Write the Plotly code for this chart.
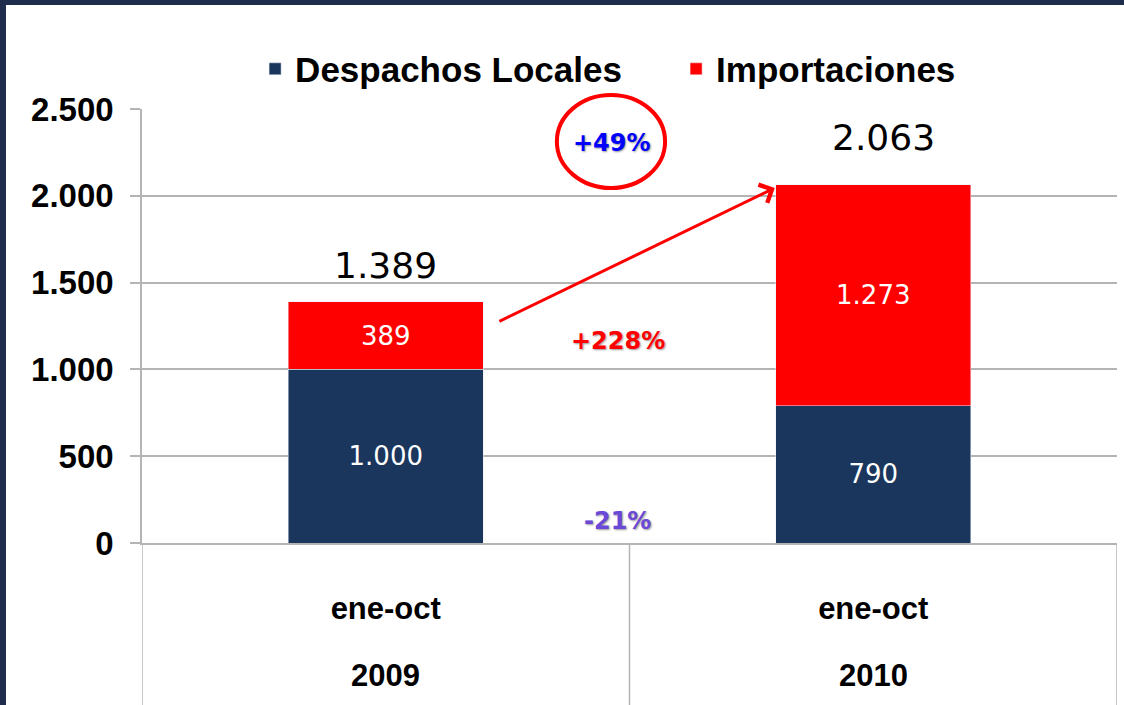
import plotly.graph_objects as go

# data
anios = ['2009', '2010']
periodo = ['ene-oct', 'ene-oct']
despachos_locales = [1000, 790]
importaciones = [389, 1273]
totales = [d + i for d, i in zip(despachos_locales, importaciones)]
variaciones = ['+49%', '+228%', '-21%']
y_ticks = [0, 500, 1000, 1500, 2000, 2500]

navy = '#1a365d'
frame = '#1f2c4c'
red = '#ff0000'
grid = '#b4b4b4'
x = [0, 1]

fig = go.Figure()
fig.add_trace(go.Bar(x=x, y=despachos_locales, name='Despachos Locales',
    marker_color=navy, width=0.4,
    texttemplate='%{y:,.0f}', textposition='inside', insidetextanchor='middle',
    textangle=0, constraintext='none',
    textfont=dict(family='DejaVu Sans', size=26, color='white')))
fig.add_trace(go.Bar(x=x, y=importaciones, name='Importaciones',
    marker_color=red, width=0.4,
    texttemplate='%{y:,.0f}', textposition='inside', insidetextanchor='middle',
    textangle=0, constraintext='none',
    textfont=dict(family='DejaVu Sans', size=26, color='white')))

fig.update_layout(
    barmode='stack',
    separators=',.',
    width=1124, height=705,
    margin=dict(l=142, r=7, t=109, b=162),
    paper_bgcolor='white',
    plot_bgcolor='white',
    showlegend=True,
    legend=dict(orientation='h', x=0.116, xanchor='left', y=1.092, yanchor='middle',
        font=dict(family='Liberation Sans', size=35, color='black', weight='bold'),
        entrywidth=376, entrywidthmode='pixels', bgcolor='rgba(0,0,0,0)',
        traceorder='normal'),
)

fig.update_yaxes(range=[0, 2500], tickvals=y_ticks, tickformat=',.0f',
    showgrid=True, gridcolor=grid, gridwidth=1.5,
    showline=True, linecolor=grid, linewidth=1.5,
    ticks='outside', ticklen=10, tickcolor=grid, tickwidth=1.5,
    ticklabelstandoff=10, zeroline=False,
    tickfont=dict(family='Liberation Sans', size=33, color='black', weight='bold'))

fig.update_xaxes(range=[-0.5, 1.5], tickvals=x, ticktext=periodo,
    showgrid=False, showline=True, linecolor=grid, linewidth=1.5,
    ticks='', ticklabelstandoff=37, zeroline=False,
    tickfont=dict(family='Liberation Sans', size=31, color='black', weight='bold'))

# navy frame at top and left
fig.add_shape(type='rect', xref='paper', yref='paper', layer='below',
    x0=-0.2, x1=-0.1395, y0=-0.5, y1=1.3, fillcolor=frame, line_width=0)
fig.add_shape(type='rect', xref='paper', yref='paper', layer='below',
    x0=-0.2, x1=1.1, y0=1.2396, y1=1.3, fillcolor=frame, line_width=0)

# category dividers below the axis
for xv in [-0.5, 0.5, 1.5]:
    fig.add_shape(type='line', xref='x', yref='paper', x0=xv, x1=xv, y0=0, y1=-0.4,
        line=dict(color=grid, width=1.5))

# year labels
for xi, a in zip(x, anios):
    fig.add_annotation(x=xi, y=-0.306, xref='x', yref='paper', text=a,
        showarrow=False, yanchor='middle',
        font=dict(family='Liberation Sans', size=31, color='black', weight='bold'))

# totals
for xi, t, ys, xs in zip(x, totales, [14, 25], [0, 10]):
    fig.add_annotation(x=xi, y=t, text=f'{t/1000:.3f}',
        showarrow=False, yanchor='bottom', yshift=ys, xshift=xs,
        font=dict(family='DejaVu Sans', size=36, color='black'))

# variations
shadow = '1px 1px 2px #999'
var_pos = [(0.464, 2304, '#0000ff'), (0.476, 1164, '#ff0000'), (0.476, 127, '#6a48d8')]
for txt, (xv, yv, col) in zip(variaciones, var_pos):
    fig.add_annotation(x=xv, y=yv, text=txt, showarrow=False,
        font=dict(family='DejaVu Sans', size=24, color=col, weight='bold', shadow=shadow))

# circle around +49%
fig.add_shape(type='circle', xref='x', yref='paper',
    x0=0.351, x1=0.573, y0=(543 - 188) / 434, y1=(543 - 95) / 434,
    line=dict(color=red, width=4))

# arrow 2009 -> 2010
fig.add_annotation(x=0.798, y=2045, ax=0.230, ay=1273, axref='x', ayref='y',
    xref='x', yref='y', text='', showarrow=True,
    arrowhead=4, arrowsize=1.3, arrowwidth=3, arrowcolor=red)

fig.write_html('out.html', config={'displayModeBar': False},
    post_script="document.body.style.margin='0';document.body.style.overflow='hidden';")
